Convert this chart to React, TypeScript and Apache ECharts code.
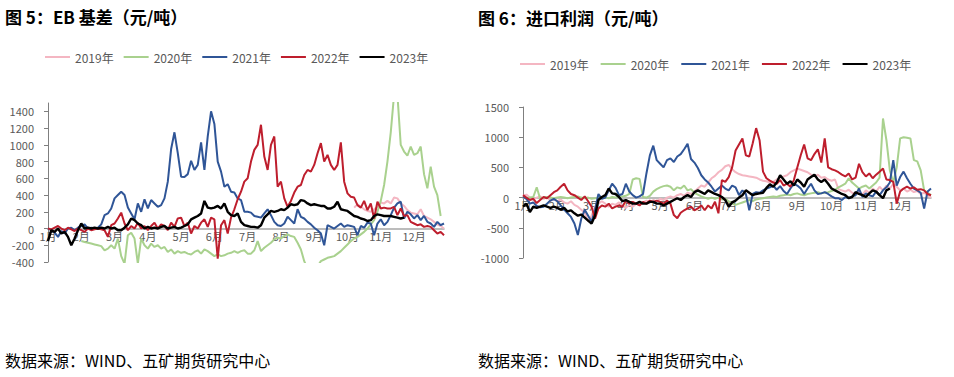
import React, { useEffect, useRef } from 'react';
import * as echarts from 'echarts';

const FONT = '"Noto Sans CJK SC", "Noto Sans", sans-serif';

const monthLabels = ['1月', '2月', '3月', '4月', '5月', '6月', '7月', '8月', '9月', '10月', '11月', '12月'];
const pointsPerMonth = 10;
const pointCount = 120;
const categories = Array.from({ length: pointCount }, (_, i) => 'p' + i);

const yearNames = ['2019年', '2020年', '2021年', '2022年', '2023年'];
const yearColors = ['#F4B6C2', '#A9D18E', '#2F5597', '#BE1E2D', '#000000'];

const titleLeft = '图 5：EB 基差（元/吨）';
const titleRight = '图 6：进口利润（元/吨）';
const sourceText = '数据来源：WIND、五矿期货研究中心';

// y axis ranges
const ebYMin = -400, ebYMax = 1500, ebYStep = 200;
const ipYMin = -1000, ipYMax = 1500, ipYStep = 500;

// ---- Chart 5: EB basis ----
const ebPink2019Start = 92;
const ebPink2019 = [250, 290, 260, 230, 210, 200, 230, 260, 310, 300, 330, 300, 370, 360, 300, 270, 220, 190, 180, 170, 230, 150, 130, 110, 80, 50, 30, 0];

const ebGreen2020Start = 10;
const ebGreen2020 = [
  -150, -160, -170, -180, -190, -200, -210, -260, -240, -200,
  -240, -120, -330, -420, -80, -50, -120, -420, -120, -200,
  -240, -180, -220, -200, -240, -220, -280, -250, -300, -270,
  -290, -280, -300, -310, -280, -260, -300, -250, -270, -300,
  -330, -310, -330, -320, -300, -290, -270, -290, -270, -260,
  -300, -300, -260, -150, -270, -230, -200, -170, -130, -110,
  -120, -90, -70, -90, -100, -170, -250, -390, -480, -480,
  -480, -450, -390, -370, -350, -340, -330, -300, -270, -230,
  -190, -150, -120, -100, -70, -40, 0, 50, 100, 200,
  330, 520, 800, 1150, 1600, 1600, 1000, 920, 870, 980,
  880, 900, 980, 650, 480, 740, 500, 400, 150,
];

const ebBlue2021 = [
  0, -20, -50, -100, -30, -60, 0, 10, -20, 10,
  30, 50, 0, 10, 0, 10, 50, 160, 180, 240,
  360, 400, 440, 400, 250, 180, 110, 300, 200, 350,
  240, 340, 300, 260, 280, 360, 560, 950, 1150, 900,
  620, 616, 650, 810, 700, 760, 1030, 700, 1100, 1400,
  1250, 800, 680, 500, 530, 440, 430, 360, 340, 200,
  200, 190, 150, 140, 130, 180, 230, 160, 80, 40,
  30, 60, 140, 100, 60, 230, 140, 120, 80, 50,
  10, -20, -60, -200, 40, 20, 0, 30, 60, 20,
  40, 30, 20, -80, 30, 10, 70, 60, -80, 60,
  110, 40, 80, 160, 250, 300, 320, 120, 200, 170,
  120, 160, 100, 150, 80, 60, 20, 80, 40, 60,
];

const ebRed2022 = [
  0, -10, 10, 30, 0, -20, 10, -10, -30, 0,
  -20, -40, 0, -20, -10, 0, -10, -20, -100, 40,
  60, 120, 190, 60, -20, 30, 0, 70, 0, 30,
  -20, 30, 70, 0, 50, 30, -20, 70, 20, 120,
  130, 30, 70, -60, 30, 0, 70, 110, 20, 130,
  110, -360, 40, 100, -60, 130, 230, 350, 440, 560,
  600, 800, 940, 1000, 1240, 860, 700, 1000, 1100, 500,
  560, 360, 260, 330, 430, 500, 520, 640, 700, 680,
  760, 900, 1020, 800, 880, 760, 700, 760, 1030, 560,
  420, 380, 370, 280, 250, 330, 220, 300, 120, 320,
  240, 250, 240, 240, 260, 160, 240, 150, 160, 80,
  60, 40, 50, 20, 30, 20, -20, -60, -40, -80,
];

const ebBlack2023 = [
  -150, -20, -40, 0, -60, -40, -100, -200, -120, -20,
  60, 0, 10, 0, 10, 0, 10, 0, 20, 0,
  10, -20, -20, 10, 50, 120, 100, 60, 40, 0,
  20, 0, 10, 0, 20, 30, 0, 10, 20, 0,
  10, 30, 50, 110, 130, 150, 180, 330, 250, 240,
  250, 270, 240, 300, 200, 160, 150, 180, 80, 40,
  30, 20, 20, 10, 40, 130, 170, 210, 200, 210,
  230, 220, 250, 290, 280, 290, 340, 330, 300, 280,
  290, 280, 270, 270, 240, 240, 260, 320, 230, 220,
  210, 180, 150, 140, 120, 110, 90, 100, 150, 170,
  160, 150, 150, 150, 140, 130, 120, 130,
];

// ---- Chart 6: import profit ----
const ipPink2019 = [
  30, 50, 0, -30, 0, 20, -20, 10, -50, -20,
  -60, -30, -80, -100, -60, -120, -150, -200, -250, -400,
  -300, -150, -100, -60, -100, -150, -100, -120, -80, -130,
  -170, -120, -150, -100, -120, -80, -50, -80, -40, -60,
  -20, -40, 0, 20, 0, 40, 60, 30, 80, 60,
  100, 150, 200, 180, 250, 320, 360, 420, 460, 520,
  540, 470, 420, 390, 370, 360, 350, 340, 330, 300,
  280, 270, 250, 260, 300, 330, 350, 370, 420, 450,
  480, 460, 440, 420, 380, 350, 380, 330, 340, 300,
  280, 300, 140, 120, 100, 130, 80, 60, 100, 50,
  120, 80, 150, 100, 180, 120, 200, 150, 230, 180,
  120, 150, 100, 130, 90, 110, 60, 80, 40, 0,
];

const ipGreen2020 = [
  20, -10, 0, 10, 170, -20, 0, 10, 0, -10,
  0, 10, 0, -10, 0, 10, 20, 0, -10, 0,
  -20, -10, 0, 10, 0, -10, 10, 0, 10, 20,
  30, 60, 300, 320, 310, 10, 0, 30, 100, 140,
  170, 190, 200, 180, 120, 170, 150, 200, 120, 140,
  80, 50, 20, 0, -20, 0, -20, 0, -30, -20,
  -60, -100, -120, -100, -80, -60, -40, -60, -30, -20,
  -10, 0, 10, 20, 10, 30, 40, 50, 40, 60,
  70, 50, 40, 60, 70, 80, 90, 70, 80, 90,
  110, 130, 170, 200, 230, 320, 250, 200, 150, 180,
  200, 150, 200, 250, 330, 1310, 950, 450, 250, 500,
  980, 1000, 990, 980, 620, 600, 450, 120, 80, 40,
];

const ipBlue2021 = [
  20, -20, -100, -80, -140, -160, -150, -100, -50, -20,
  -60, -130, -200, -260, -320, -430, -620, -350, -200, -300,
  -400, -200, 60, -20, 0, 120, 230, 160, 40, 60,
  230, 100, 40, 0, 20, 60, 400, 700, 860, 620,
  560, 500, 620, 650, 590, 680, 720, 800, 890, 640,
  580, 490, 370, 300, 250, 180, 100, 150, 200, 150,
  120, 200, 170, 40, 120, 60, -210, 60, 90, 80,
  120, 150, 170, 200, 130, 190, 110, 60, 150, 230,
  200, 150, 60, 150, 230, 120, 60, 70, 90, 60,
  20, -10, -10, -40, 10, -10, 20, 40, 150, 10,
  70, 40, 20, 100, 40, 120, 170, 250, 620, 200,
  340, 430, 320, 230, 150, 120, 80, -180, 100, 150,
];

const ipRed2022 = [
  40, 0, -40, -20, -90, -40, 10, -10, 40, 90,
  120, 180, 230, 120, 60, 40, 0, -40, 20, -60,
  -150, -350, -180, -130, -150, -100, -180, -150, -130, -150,
  -50, -100, -70, -100, -130, -70, -100, -50, -70, -50,
  -70, -100, -50, -100, -290, -340, -250, -210, -180, -150,
  -210, -180, -130, -210, -130, -180, -70, -260, 290, 260,
  340, 500, 780, 880, 980, 700, 680, 900, 1150, 950,
  430, 320, 280, 250, 230, 290, 200, 230, 180, 290,
  500, 700, 880, 650, 620, 720, 800, 580, 980, 500,
  470, 450, 420, 380, 350, 400, 300, 330, 560, 420,
  350, 400, 320, 380, 430, 480, 300, 290, 260, -100,
  100, 150, 180, 150, 170, 130, 140, 120, 60, 40,
];

const ipBlack2023 = [
  -150, -100, -240, -150, -170, -150, -130, -150, -170, -150,
  -170, -200, -170, -230, -210, -260, -300, -280, -330, -380,
  -430, -300, -40, 10, 40, 150, 70, 60, 10, -60,
  -40, -70, -100, -100, -70, -100, -100, -70, -70, -100,
  -100, -130, -100, -70, -40, -10, -40, 10, 40, 10,
  90, 120, 90, 60, 120, 90, 60, 40, 10, -40,
  -150, -80, -50, 0, 40, 120, 80, 40, 60, 70,
  80, 160, 220, 180, 250, 370, 300, 230, 270, 200,
  300, 250, 180, 300, 340, 380, 300, 260, 300, 230,
  150, 120, 90, 60, 40, -10, 10, 90, 60, 40,
  10, 70, 120, 100, 40, -10, 120, 150,
];

const pad = (start: number, arr: number[]) => [...new Array(start).fill(null), ...arr];

const ebSeriesData = [pad(ebPink2019Start, ebPink2019), pad(ebGreen2020Start, ebGreen2020), ebBlue2021, ebRed2022, ebBlack2023];
const ipSeriesData = [ipPink2019, ipGreen2020, ipBlue2021, ipRed2022, ipBlack2023];

const grids = [
  { left: 48, top: 103, width: 396, height: 159 },
  { left: 523, top: 107, width: 408, height: 151 },
];

function makeXAxis(gridIndex: number, yMin: number, yMax: number) {
  // place the category axis on the zero line (offset from the grid bottom)
  const zeroOffset = -grids[gridIndex].height * (0 - yMin) / (yMax - yMin);
  return {
    type: 'category',
    gridIndex,
    data: categories,
    boundaryGap: false,
    position: 'bottom',
    offset: zeroOffset,
    axisLine: { onZero: false, lineStyle: { color: '#a6a6a6', width: 1.5 } },
    axisTick: { show: false },
    axisLabel: {
      interval: (i: number) => i % pointsPerMonth === 0,
      formatter: (_v: string, i: number) => monthLabels[Math.floor(i / pointsPerMonth)] || '',
      fontSize: 11,
      color: '#595959',
      fontFamily: FONT,
      margin: 2,
    },
    splitLine: { show: false },
    z: 1,
  };
}

function makeYAxis(gridIndex: number, min: number, max: number, interval: number) {
  return {
    type: 'value',
    gridIndex,
    min,
    max,
    interval,
    axisLine: { show: true, lineStyle: { color: '#7f7f7f', width: 1 } },
    axisTick: { show: true, length: 4, lineStyle: { color: '#7f7f7f' } },
    splitLine: { show: false },
    axisLabel: {
      showMaxLabel: max % interval === 0,
      formatter: (v: number) => String(v),
      fontSize: 11,
      color: '#595959',
      fontFamily: FONT,
      margin: 14,
    },
  };
}

function makeSeries(dataSets: (number | null)[][], idx: number) {
  return dataSets.map((d, k) => ({
    name: yearNames[k],
    type: 'line',
    xAxisIndex: idx,
    yAxisIndex: idx,
    data: d,
    symbol: 'none',
    clip: true,
    connectNulls: false,
    lineStyle: { color: yearColors[k], width: k === 4 ? 2.4 : 2 },
    itemStyle: { color: yearColors[k] },
    z: 2 + k,
  }));
}

function makeLegend(left: number, top: number, gap: number) {
  return {
    left,
    top,
    icon: 'rect',
    itemWidth: 25,
    itemHeight: 2,
    itemGap: gap,
    data: yearNames,
    textStyle: { fontSize: 12, color: '#595959', fontFamily: FONT },
  };
}

export default function App() {
  const ref = useRef<HTMLDivElement>(null);
  useEffect(() => {
    if (!ref.current) return;
    const chart = echarts.init(ref.current, undefined, { renderer: 'svg' });
    chart.setOption({
      animation: false,
      backgroundColor: '#ffffff',
      grid: grids.map((g) => ({ ...g, containLabel: false, outerBoundsMode: 'none' })),
      legend: [makeLegend(40, 46, 10), makeLegend(515, 53, 12)],
      xAxis: [makeXAxis(0, ebYMin, ebYMax), makeXAxis(1, ipYMin, ipYMax)],
      yAxis: [makeYAxis(0, ebYMin, ebYMax, ebYStep), makeYAxis(1, ipYMin, ipYMax, ipYStep)],
      series: [...makeSeries(ebSeriesData, 0), ...makeSeries(ipSeriesData, 1)],
      graphic: [
        { type: 'text', left: 5, top: 8, style: { text: titleLeft, font: 'bold 17px ' + FONT, fill: '#000' } },
        { type: 'text', left: 478, top: 9, style: { text: titleRight, font: 'bold 17px ' + FONT, fill: '#000' } },
        { type: 'text', left: 5, top: 352, style: { text: sourceText, font: '16px ' + FONT, fill: '#000' } },
        { type: 'text', left: 478, top: 352, style: { text: sourceText, font: '16px ' + FONT, fill: '#000' } },
      ],
    });
    return () => chart.dispose();
  }, []);
  return <div ref={ref} style={{ position: 'absolute', left: 0, top: 0, width: 954, height: 377 }} />;
}
